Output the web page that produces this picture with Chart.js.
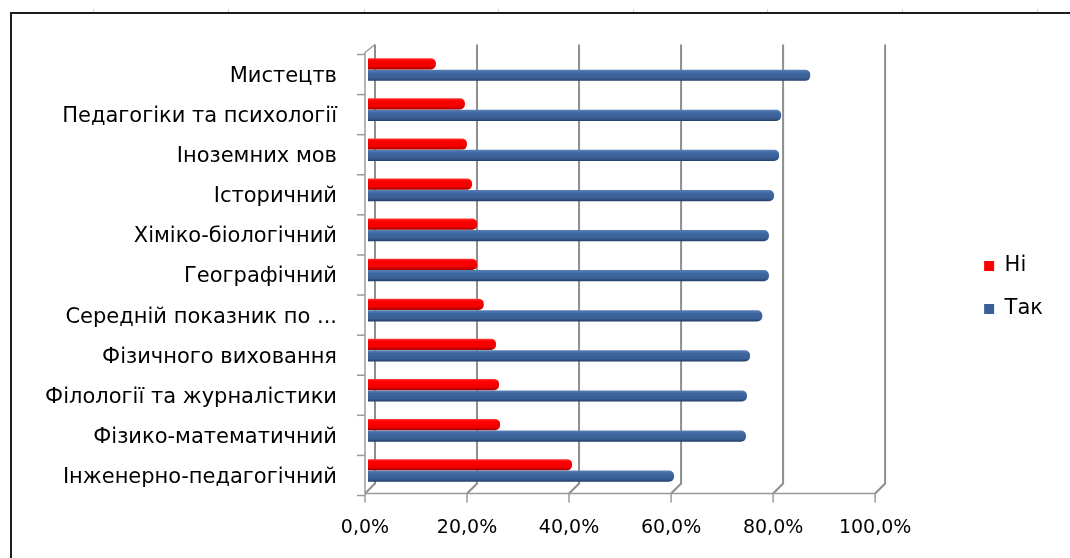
<!DOCTYPE html>
<html><head><meta charset="utf-8">
<script src="https://cdn.jsdelivr.net/npm/chart.js@4.4.1/dist/chart.umd.min.js"></script>
<style>html,body{margin:0;padding:0;background:#fff;} #wrap{width:1070px;height:558px;position:relative;}</style>
</head><body><div id="wrap"><canvas id="c"></canvas></div>
<script>
const categories = ['Мистецтв', 'Педагогіки та психології', 'Іноземних мов', 'Історичний', 'Хіміко-біологічний', 'Географічний', 'Середній показник по ...', 'Фізичного виховання', 'Філології та журналістики', 'Фізико-математичний', 'Інженерно-педагогічний'];
const seriesNames = ['Ні', 'Так'];
const valuesNi  = [13.3, 19.0, 19.4, 20.4, 21.4, 21.4, 22.7, 25.1, 25.7, 25.9, 40.0];
const valuesTak = [86.7, 81.0, 80.6, 79.6, 78.6, 78.6, 77.3, 74.9, 74.3, 74.1, 60.0];
const xTickValues = [0, 20, 40, 60, 80, 100];
const xTickLabels = ['0,0%', '20,0%', '40,0%', '60,0%', '80,0%', '100,0%'];

const FONT = 'DejaVu Sans';
const FRONT = {dx: -3, dy: 3};
const BACK = {dx: 7, dy: -7};
const CAT_PCT = 0.57, BAR_PCT = 0.98;
const solidColors = ['#ff0000', '#3a6197'];
const gradStops = [
  [[0, '#ff3a3a'], [0.2, '#ff0000'], [0.72, '#f20000'], [1, '#a00000']],
  [[0, '#5a80b6'], [0.28, '#3f68a0'], [0.75, '#395e94'], [1, '#223d66']]
];

function barFill(ctx, i) {
  const chart = ctx.chart;
  const ys = chart.scales && chart.scales.y;
  if (!ys || ctx.type !== 'data') return solidColors[i];
  const band = ys.getPixelForValue(1) - ys.getPixelForValue(0);
  const catW = band * CAT_PCT, slot = catW / 2, thick = slot * BAR_PCT;
  const center = ys.getPixelForValue(ctx.dataIndex) - catW / 2 + slot * (i + 0.5);
  const t = center - thick / 2;
  if (!isFinite(t) || !isFinite(thick) || thick <= 0) return solidColors[i];
  const g = chart.ctx.createLinearGradient(0, t, 0, t + thick);
  gradStops[i].forEach(s => g.addColorStop(s[0], s[1]));
  return g;
}

const frame3d = {
  id: 'frame3d',
  beforeDraw(chart) {
    const c = chart.ctx;
    c.save();
    c.fillStyle = '#fff';
    c.fillRect(0, 0, chart.width, chart.height);
    c.strokeStyle = '#1e1e1e';
    c.lineWidth = 2;
    c.beginPath();
    c.moveTo(11, chart.height + 2);
    c.lineTo(11, 13);
    c.lineTo(chart.width + 2, 13);
    c.stroke();
    c.strokeStyle = '#d0d0dc';
    c.lineWidth = 1;
    [93, 228, 364, 498, 633, 767, 902, 1037].forEach(px => {
      c.beginPath(); c.moveTo(px + 0.5, 9); c.lineTo(px + 0.5, 12); c.stroke();
    });
    c.restore();
  },
  beforeDatasetsDraw(chart) {
    const c = chart.ctx;
    const a = chart.chartArea;
    const xs = chart.scales.x, ys = chart.scales.y;
    c.save();
    const backTop = a.top + BACK.dy + 2;
    const backBot = a.bottom + BACK.dy;
    const frontBot = a.bottom + FRONT.dy;
    c.strokeStyle = '#8e8e8e';
    c.lineWidth = 2;
    xTickValues.forEach(v => {
      const px = xs.getPixelForValue(v);
      c.beginPath();
      c.moveTo(px + BACK.dx, backTop);
      c.lineTo(px + BACK.dx, backBot);
      c.lineTo(px + FRONT.dx, frontBot);
      c.stroke();
    });
    c.strokeStyle = '#9a9a9a';
    c.lineWidth = 1.5;
    const x0 = xs.getPixelForValue(0), x1 = xs.getPixelForValue(100);
    c.beginPath();
    c.moveTo(x0 + FRONT.dx, frontBot);
    c.lineTo(x1 + FRONT.dx, frontBot);
    c.stroke();
    xTickValues.forEach(v => {
      const px = xs.getPixelForValue(v) + FRONT.dx;
      c.beginPath(); c.moveTo(px, frontBot); c.lineTo(px, frontBot + 9); c.stroke();
    });
    c.beginPath();
    c.moveTo(x0 + BACK.dx, a.top + BACK.dy + 2);
    c.lineTo(x0 + FRONT.dx, a.top + FRONT.dy);
    c.lineTo(x0 + FRONT.dx, frontBot);
    c.stroke();
    const n = categories.length;
    const band = (ys.getPixelForValue(n - 1) - ys.getPixelForValue(0)) / (n - 1);
    for (let i = 0; i <= n; i++) {
      const py = ys.getPixelForValue(0) - band / 2 + i * band + FRONT.dy + 2;
      c.beginPath(); c.moveTo(x0 + FRONT.dx - 8, py); c.lineTo(x0 + FRONT.dx, py); c.stroke();
    }
    c.restore();
  }
};

new Chart(document.getElementById('c'), {
  type: 'bar',
  data: {
    labels: categories,
    datasets: [
      {label: seriesNames[0], data: valuesNi, backgroundColor: ctx => barFill(ctx, 0), borderSkipped: 'start', borderRadius: 5, barPercentage: BAR_PCT, categoryPercentage: CAT_PCT},
      {label: seriesNames[1], data: valuesTak, backgroundColor: ctx => barFill(ctx, 1), borderSkipped: 'start', borderRadius: 5, barPercentage: BAR_PCT, categoryPercentage: CAT_PCT}
    ]
  },
  options: {
    indexAxis: 'y',
    responsive: true,
    maintainAspectRatio: false,
    animation: false,
    devicePixelRatio: 1,
    layout: {padding: {top: 49.5, bottom: 12.5, left: 0, right: 17}},
    scales: {
      x: {
        min: 0, max: 100,
        grid: {display: false, drawTicks: false, tickLength: 0},
        border: {display: false},
        afterBuildTicks(s) { s.ticks = xTickValues.map(v => ({value: v})); },
        afterFit(s) { s.height = 55; },
        ticks: {
          padding: 26, labelOffset: -3, maxRotation: 0, autoSkip: false,
          color: '#000', font: {family: FONT, size: 19},
          callback: (v, i) => xTickLabels[i]
        }
      },
      y: {
        grid: {display: false, drawTicks: false, tickLength: 0},
        border: {display: false},
        afterFit(s) { s.width = 368; },
        ticks: {padding: 31, labelOffset: 7, autoSkip: false, color: '#000', font: {family: FONT, size: 21}}
      },
      yPad: {
        type: 'category', position: 'right', display: true,
        grid: {display: false, drawTicks: false}, border: {display: false},
        ticks: {display: false},
        afterFit(s) { s.width = 84; }
      }
    },
    plugins: {
      legend: {
        position: 'right', align: 'center', fullSize: false,
        title: {display: true, text: '', padding: {top: 9.8, bottom: 0}, font: {family: FONT, size: 21}},
        labels: {
          boxWidth: 10, boxHeight: 10, padding: 22, color: '#000', font: {family: FONT, size: 21},
          generateLabels(chart) {
            const items = Chart.defaults.plugins.legend.labels.generateLabels(chart);
            items.forEach((it, i) => { it.fillStyle = solidColors[i]; it.strokeStyle = solidColors[i]; it.lineWidth = 0; });
            return items;
          }
        }
      },
      tooltip: {enabled: false}
    }
  },
  plugins: [frame3d]
});
</script></body></html>
